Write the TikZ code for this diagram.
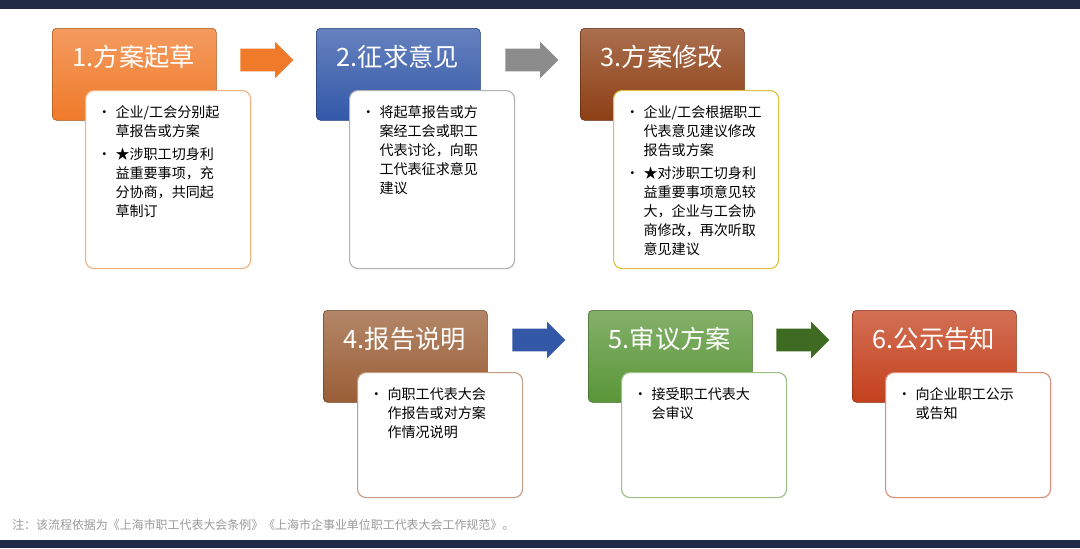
\documentclass[tikz,border=0pt]{standalone}
\usepackage{fontspec}
\setmainfont{Noto Sans CJK SC}
\usetikzlibrary{shapes.arrows}
\definecolor{navy}{HTML}{1F2A44}
\tikzset{
 hdr/.style={draw=#1!70!black, rounded corners=3pt, minimum width=164*0.025cm, minimum height=92*0.025cm, anchor=north west, top color=#1!75!white, bottom color=#1, text=white, font=\fontsize{18}{20}\selectfont, inner sep=0pt},
 sub/.style={draw=#1, fill=white, rounded corners=6pt, line width=0.8pt, anchor=north west, minimum width=165*0.025cm, inner sep=0pt},
 arr/.style={single arrow, fill=#1, draw=none, single arrow head extend=0.175cm, minimum height=53*0.025cm, inner xsep=0pt, inner ysep=0.275cm, anchor=west},
 txt/.style={anchor=north west, font=\fontsize{10}{13.5}\selectfont, align=left, inner sep=0pt},
 ttl/.style={anchor=north, text=white, font=\fontsize{18}{20}\selectfont}
}
\newcommand{\bl}[1]{\begin{tabular}[t]{@{}l@{\hspace{3pt}}l@{}}#1\end{tabular}}
\begin{document}
\begin{tikzpicture}[x=0.025cm,y=-0.025cm]
\useasboundingbox (0,0) rectangle (1080,548);
\fill[white] (0,0) rectangle (1080,548);
\fill[navy] (0,0) rectangle (1080,9);
\fill[navy] (0,540) rectangle (1080,548);
\definecolor{c1}{HTML}{F07A2A}\definecolor{c2}{HTML}{3358A8}\definecolor{c3}{HTML}{8E3F14}
\definecolor{c4}{HTML}{9A5E36}\definecolor{c5}{HTML}{5A9638}\definecolor{c6}{HTML}{C4401C}
\definecolor{gold}{HTML}{E0C040}\definecolor{dgreen}{HTML}{3E6B22}
\node[hdr=c1] (h1) at (52,28) {};
\node[ttl] (t1) at (134,40) {1.方案起草};
\node[hdr=c2] (h2) at (316,28) {};
\node[ttl] (t2) at (398,40) {2.征求意见};
\node[hdr=c3] (h3) at (580,28) {};
\node[ttl] (t3) at (662,40) {3.方案修改};
\node[hdr=c4] (h4) at (323,310) {};
\node[ttl] (t4) at (405,322) {4.报告说明};
\node[hdr=c5] (h5) at (588,310) {};
\node[ttl] (t5) at (670,322) {5.审议方案};
\node[hdr=c6] (h6) at (852,310) {};
\node[ttl] (t6) at (934,322) {6.公示告知};
\node[sub=c1!60, minimum height=178*0.025cm] (s1) at (85,90) {};
\node[sub=gray!60, minimum height=178*0.025cm] (s2) at (349,90) {};
\node[sub=gold, minimum height=178*0.025cm] (s3) at (613,90) {};
\node[sub=c4!60, minimum height=125*0.025cm] (s4) at (357,372) {};
\node[sub=c5!60, minimum height=125*0.025cm] (s5) at (621,372) {};
\node[sub=c6!60, minimum height=125*0.025cm] (s6) at (885,372) {};
\node[txt] (x1) at (97,104) {\bl{•&企业/工会分别起\\&草报告或方案\\[3pt]•&★涉职工切身利\\&益重要事项，充\\&分协商，共同起\\&草制订}};
\node[txt] (x2) at (361,104) {\bl{•&将起草报告或方\\&案经工会或职工\\&代表讨论，向职\\&工代表征求意见\\&建议}};
\node[txt] (x3) at (625,104) {\bl{•&企业/工会根据职工\\&代表意见建议修改\\&报告或方案\\[3pt]•&★对涉职工切身利\\&益重要事项意见较\\&大，企业与工会协\\&商修改，再次听取\\&意见建议}};
\node[txt] (x4) at (369,386) {\bl{•&向职工代表大会\\&作报告或对方案\\&作情况说明}};
\node[txt] (x5) at (633,386) {\bl{•&接受职工代表大\\&会审议}};
\node[txt] (x6) at (897,386) {\bl{•&向企业职工公示\\&或告知}};
\node[arr=c1] (a1) at (240,60) {};
\node[arr=gray!90] (a2) at (505,60) {};
\node[arr=c2] (a3) at (512,340) {};
\node[arr=dgreen] (a4) at (776,340) {};
\node[anchor=west, text=gray!80, font=\fontsize{8.5}{10}\selectfont, inner sep=0pt] (fn) at (12,525) {注：该流程依据为《上海市职工代表大会条例》《上海市企事业单位职工代表大会工作规范》。};
\end{tikzpicture}
\end{document}
